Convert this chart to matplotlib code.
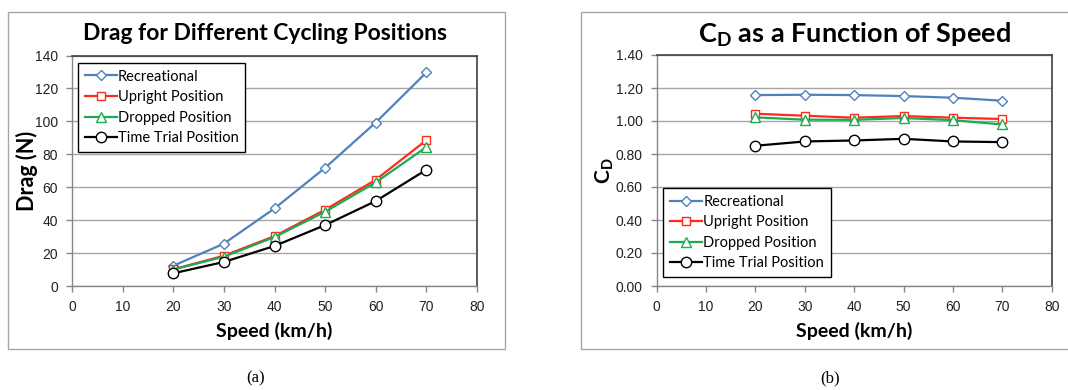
import matplotlib.pyplot as plt
from matplotlib.patches import Rectangle

# speeds (km/h)
speed = [20, 30, 40, 50, 60, 70]

# drag force (N)
drag_rec = [12.3, 25.7, 47.1, 71.8, 99.3, 129.7]
drag_upr = [10.1, 18.4, 30.3, 46.3, 64.5, 88.6]
drag_drop = [10.0, 17.8, 29.7, 45.1, 62.9, 84.4]
drag_tt = [7.7, 14.6, 24.3, 37.0, 51.6, 70.6]

# drag coefficient
cd_rec = [1.157, 1.159, 1.157, 1.151, 1.141, 1.123]
cd_upr = [1.044, 1.032, 1.020, 1.030, 1.020, 1.012]
cd_drop = [1.022, 1.008, 1.007, 1.018, 1.005, 0.979]
cd_tt = [0.850, 0.876, 0.882, 0.892, 0.876, 0.872]

names = ['Recreational', 'Upright Position', 'Dropped Position', 'Time Trial Position']
colors = ['#4F81BD', '#FF2A1A', '#1DAA55', '#000000']
markers = ['D', 's', '^', 'o']
msizes = [4.8, 5.5, 6.5, 7.5]

plt.rcParams['mathtext.fontset'] = 'custom'
plt.rcParams['mathtext.rm'] = 'Lato:bold'
plt.rcParams['mathtext.it'] = 'Lato:bold'
plt.rcParams['mathtext.bf'] = 'Lato:bold'

fig = plt.figure(figsize=(10.68, 3.90), dpi=100)
W, H = 1068.0, 390.0

# outer chart boxes
for x0, x1 in [(8, 505), (581, 1075)]:
    fig.patches.append(Rectangle((x0 / W, 1 - 349 / H), (x1 - x0) / W, (349 - 12) / H,
                                 transform=fig.transFigure, fill=False,
                                 edgecolor='#a6a6a6', lw=1.0))


def style(ax, ymax, ystep, fmt):
    ax.set_xlim(0, 80)
    ax.set_ylim(0, ymax)
    ax.set_xticks(range(0, 81, 10))
    yt = [i * ystep for i in range(int(round(ymax / ystep)) + 1)]
    ax.set_yticks(yt)
    ax.set_yticklabels([fmt.format(v) for v in yt])
    ax.grid(axis='y', color='#a6a6a6', lw=1.0)
    ax.set_axisbelow(True)
    for s in ['top', 'right']:
        ax.spines[s].set_color('#404040')
        ax.spines[s].set_linewidth(1.2)
    for s in ['left', 'bottom']:
        ax.spines[s].set_color('#868686')
        ax.spines[s].set_linewidth(1.0)
    ax.tick_params(direction='out', length=4, width=1, color='#868686',
                   labelsize=10, labelcolor='#222222', pad=6)
    for lab in ax.get_xticklabels() + ax.get_yticklabels():
        lab.set_family('Liberation Sans')
    ax.set_xlabel('Speed (km/h)', family='Lato', fontweight='bold', fontsize=14, labelpad=6)


def draw(ax, series):
    for vals, name, c, m, ms in zip(series, names, colors, markers, msizes):
        ax.plot(speed, vals, color=c, lw=1.6, marker=m, ms=ms,
                mfc='white', mec=c, mew=1.0, label=name)


def legend(ax, loc, anchor):
    leg = ax.legend(loc=loc, bbox_to_anchor=anchor, fancybox=False,
                    edgecolor='black', framealpha=1, handlelength=2.2, handletextpad=0.1,
                    borderpad=0.45, labelspacing=0.45, borderaxespad=0,
                    prop={'family': 'Lato', 'size': 10.5})
    leg.get_frame().set_linewidth(1.0)


# (a) drag
ax1 = fig.add_axes([72 / W, 1 - 286 / H, 405 / W, 230.5 / H])
draw(ax1, [drag_rec, drag_upr, drag_drop, drag_tt])
style(ax1, 140, 20, '{:.0f}')
ax1.set_ylabel('Drag (N)', family='Lato', fontweight='bold', fontsize=15.5)
ax1.yaxis.set_label_coords(-0.085, 0.5)
fig.text(265 / W, 1 - 33 / H, 'Drag for Different Cycling Positions', family='Lato',
         fontweight='bold', fontsize=16.5, ha='center', va='center')
legend(ax1, 'upper left', (6 / 405, 1 - 7.5 / 230.5))

# (b) drag coefficient
ax2 = fig.add_axes([656.7 / W, 1 - 286 / H, 395 / W, 231 / H])
draw(ax2, [cd_rec, cd_upr, cd_drop, cd_tt])
style(ax2, 1.4, 0.2, '{:.2f}')
ax2.set_ylabel(r'C$_\mathrm{D}$', family='Lato', fontweight='bold', fontsize=15, labelpad=0)
ax2.set_title(r'C$_\mathrm{D}$ as a Function of Speed', family='Lato', fontweight='bold',
              fontsize=19.5, pad=9)
legend(ax2, 'lower left', (6.5 / 395, 9 / 231))

fig.text(256 / W, 1 - 378 / H, '(a)', family='Liberation Serif', fontsize=12,
         ha='center', va='center')
fig.text(830 / W, 1 - 378 / H, '(b)', family='Liberation Serif', fontsize=12,
         ha='center', va='center')

fig.savefig('out.png', dpi=100)
